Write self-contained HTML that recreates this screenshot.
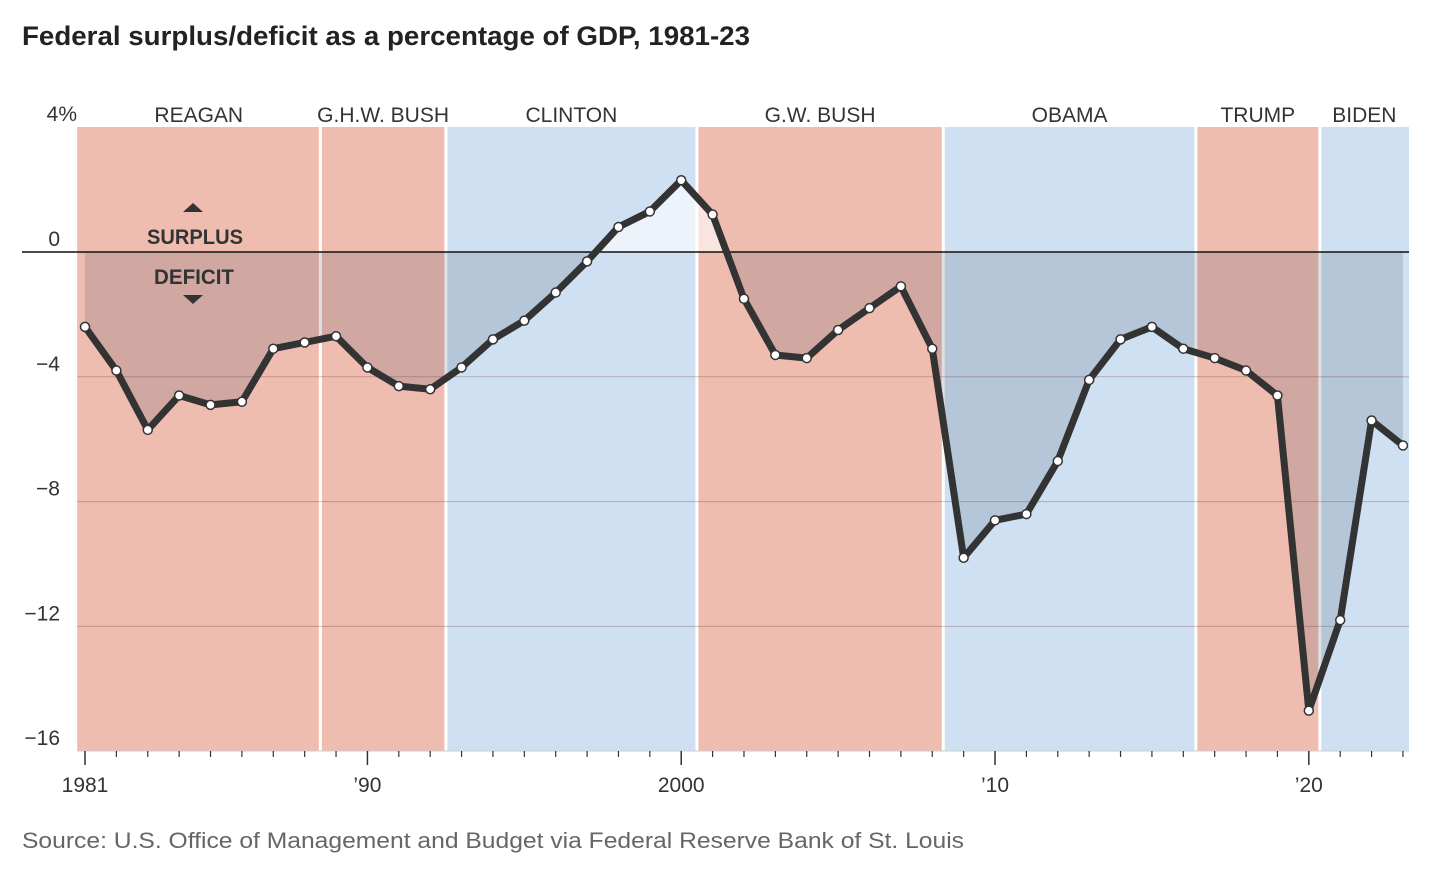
<!DOCTYPE html>
<html><head><meta charset="utf-8"><style>
body{margin:0;background:#fff;width:1436px;height:874px;overflow:hidden;font-family:"Liberation Sans",sans-serif}
svg text{font-family:"Liberation Sans",sans-serif}
</style></head><body>
<svg id="c" width="1436" height="874">
<text x="22" y="45" font-size="27" font-weight="bold" fill="#222" textLength="728" lengthAdjust="spacingAndGlyphs">Federal surplus/deficit as a percentage of GDP, 1981-23</text>
<g id="bands"></g><g id="grid"></g><g id="area"></g><g id="line"></g><g id="axes"></g>
<g>
<polygon points="183,212 203,212 193,203" fill="#333"/>
<text x="195" y="244" text-anchor="middle" font-size="21" font-weight="bold" fill="#333" textLength="96" lengthAdjust="spacingAndGlyphs">SURPLUS</text>
<text x="194" y="284" text-anchor="middle" font-size="21" font-weight="bold" fill="#333" textLength="80" lengthAdjust="spacingAndGlyphs">DEFICIT</text>
<polygon points="183,295 203,295 193,304" fill="#333"/>
</g>
<text x="22" y="848" font-size="22" fill="#666" textLength="942" lengthAdjust="spacingAndGlyphs">Source: U.S. Office of Management and Budget via Federal Reserve Bank of St. Louis</text>
</svg>
<script>
const years=[];for(let y=1981;y<=2023;y++)years.push(y);
const values=[-2.4,-3.8,-5.7,-4.6,-4.9,-4.8,-3.1,-2.9,-2.7,-3.7,-4.3,-4.4,-3.7,-2.8,-2.2,-1.3,-0.3,0.8,1.3,2.3,1.2,-1.5,-3.3,-3.4,-2.5,-1.8,-1.1,-3.1,-9.8,-8.6,-8.4,-6.7,-4.1,-2.8,-2.4,-3.1,-3.4,-3.8,-4.6,-14.7,-11.8,-5.4,-6.2];
const presidents=["REAGAN","G.H.W. BUSH","CLINTON","G.W. BUSH","OBAMA","TRUMP","BIDEN"];
const termStarts=[1980.75,1988.5,1992.5,2000.5,2008.35,2016.4,2020.35];
const termEnds=[1988.5,1992.5,2000.5,2008.35,2016.4,2020.35,2024];
const parties=["R","R","D","R","D","R","D"];
const yTicks=[4,0,-4,-8,-12,-16];
const yTickLabels=["4%","0","−4","−8","−12","−16"];
const xLabelYears=[1981,1990,2000,2010,2020];
const xLabels=["1981","’90","2000","’10","’20"];
const NS="http://www.w3.org/2000/svg";
const L=77,R=1409,T=127,B=751;
const x=yr=>85+(yr-1981)*31.38;
const y=v=>252-v*31.2;
function mk(t,a,p){const e=document.createElementNS(NS,t);for(const k in a)e.setAttribute(k,a[k]);p.appendChild(e);return e;}
const bands=document.getElementById('bands');
presidents.forEach((p,i)=>{
 const x0=Math.max(L,x(termStarts[i])),x1=Math.min(R,x(termEnds[i]));
 const r=mk('rect',{x:x0+(i?1.5:0),y:T,width:x1-x0-(i?1.5:0)-(i<6?1.5:0),height:B-T,fill:parties[i]=="R"?"#efbcb0":"#cfe0f3"},bands);
 
 
 const t=mk('text',{x:(x0+x1)/2,y:122,'text-anchor':'middle','font-size':21,fill:'#333'},bands);
 t.textContent=p;
 
 
});
const grid=document.getElementById('grid');
yTicks.forEach((v,i)=>{
 if(v!==0&&v!==4&&v!==-16){const g=mk('line',{x1:L,x2:R,y1:y(v),y2:y(v),stroke:'rgba(120,70,70,0.35)','stroke-width':1},grid);
 
 }
 const t=mk('text',{x:v==4?77:60,y:y(v)-6,'text-anchor':'end','font-size':21,fill:'#333'},grid);
 t.textContent=yTickLabels[i];
 
 
});
const area=document.getElementById('area');
const pts=years.map((yr,i)=>x(yr)+','+y(values[i])).join(' ');
const poly=x(years[0])+','+y(0)+' '+pts+' '+x(years[years.length-1])+','+y(0);
const defs=mk('defs',{},area);
const c1=mk('clipPath',{id:'below'},defs);mk('rect',{x:0,y:y(0),width:1436,height:800},c1);
const c2=mk('clipPath',{id:'above'},defs);mk('rect',{x:0,y:0,width:1436,height:y(0)},c2);
const a1=mk('polygon',{points:poly,fill:'rgba(60,70,90,0.17)','clip-path':'url(#below)'},area);


const a2=mk('polygon',{points:poly,fill:'rgba(255,255,255,0.6)','clip-path':'url(#above)'},area);


const zl=mk('line',{x1:22,x2:R,y1:y(0),y2:y(0),stroke:'#111','stroke-width':1.5},area);


const lg=document.getElementById('line');
const pl=mk('polyline',{points:pts,fill:'none',stroke:'#333','stroke-width':7,'stroke-linejoin':'round'},lg);


years.forEach((yr,i)=>{const c=mk('circle',{cx:x(yr),cy:y(values[i]),r:4.5,fill:'#fff',stroke:'#333','stroke-width':1.5},lg);
 
 });
const ax=document.getElementById('axes');
const bl=mk('line',{x1:L,x2:R,y1:B,y2:B,stroke:'#ccc','stroke-width':1},ax);


years.forEach(yr=>{const maj=xLabelYears.includes(yr);
 const t=mk('line',{x1:x(yr),x2:x(yr),y1:B,y2:B+(maj?14:6),stroke:'#333','stroke-width':maj?1.5:1.2},ax);
 
 });
xLabelYears.forEach((yr,i)=>{const t=mk('text',{x:x(yr),y:792,'text-anchor':'middle','font-size':21,fill:'#333'},ax);
 t.textContent=xLabels[i];
 
 });
</script>
</body></html>
